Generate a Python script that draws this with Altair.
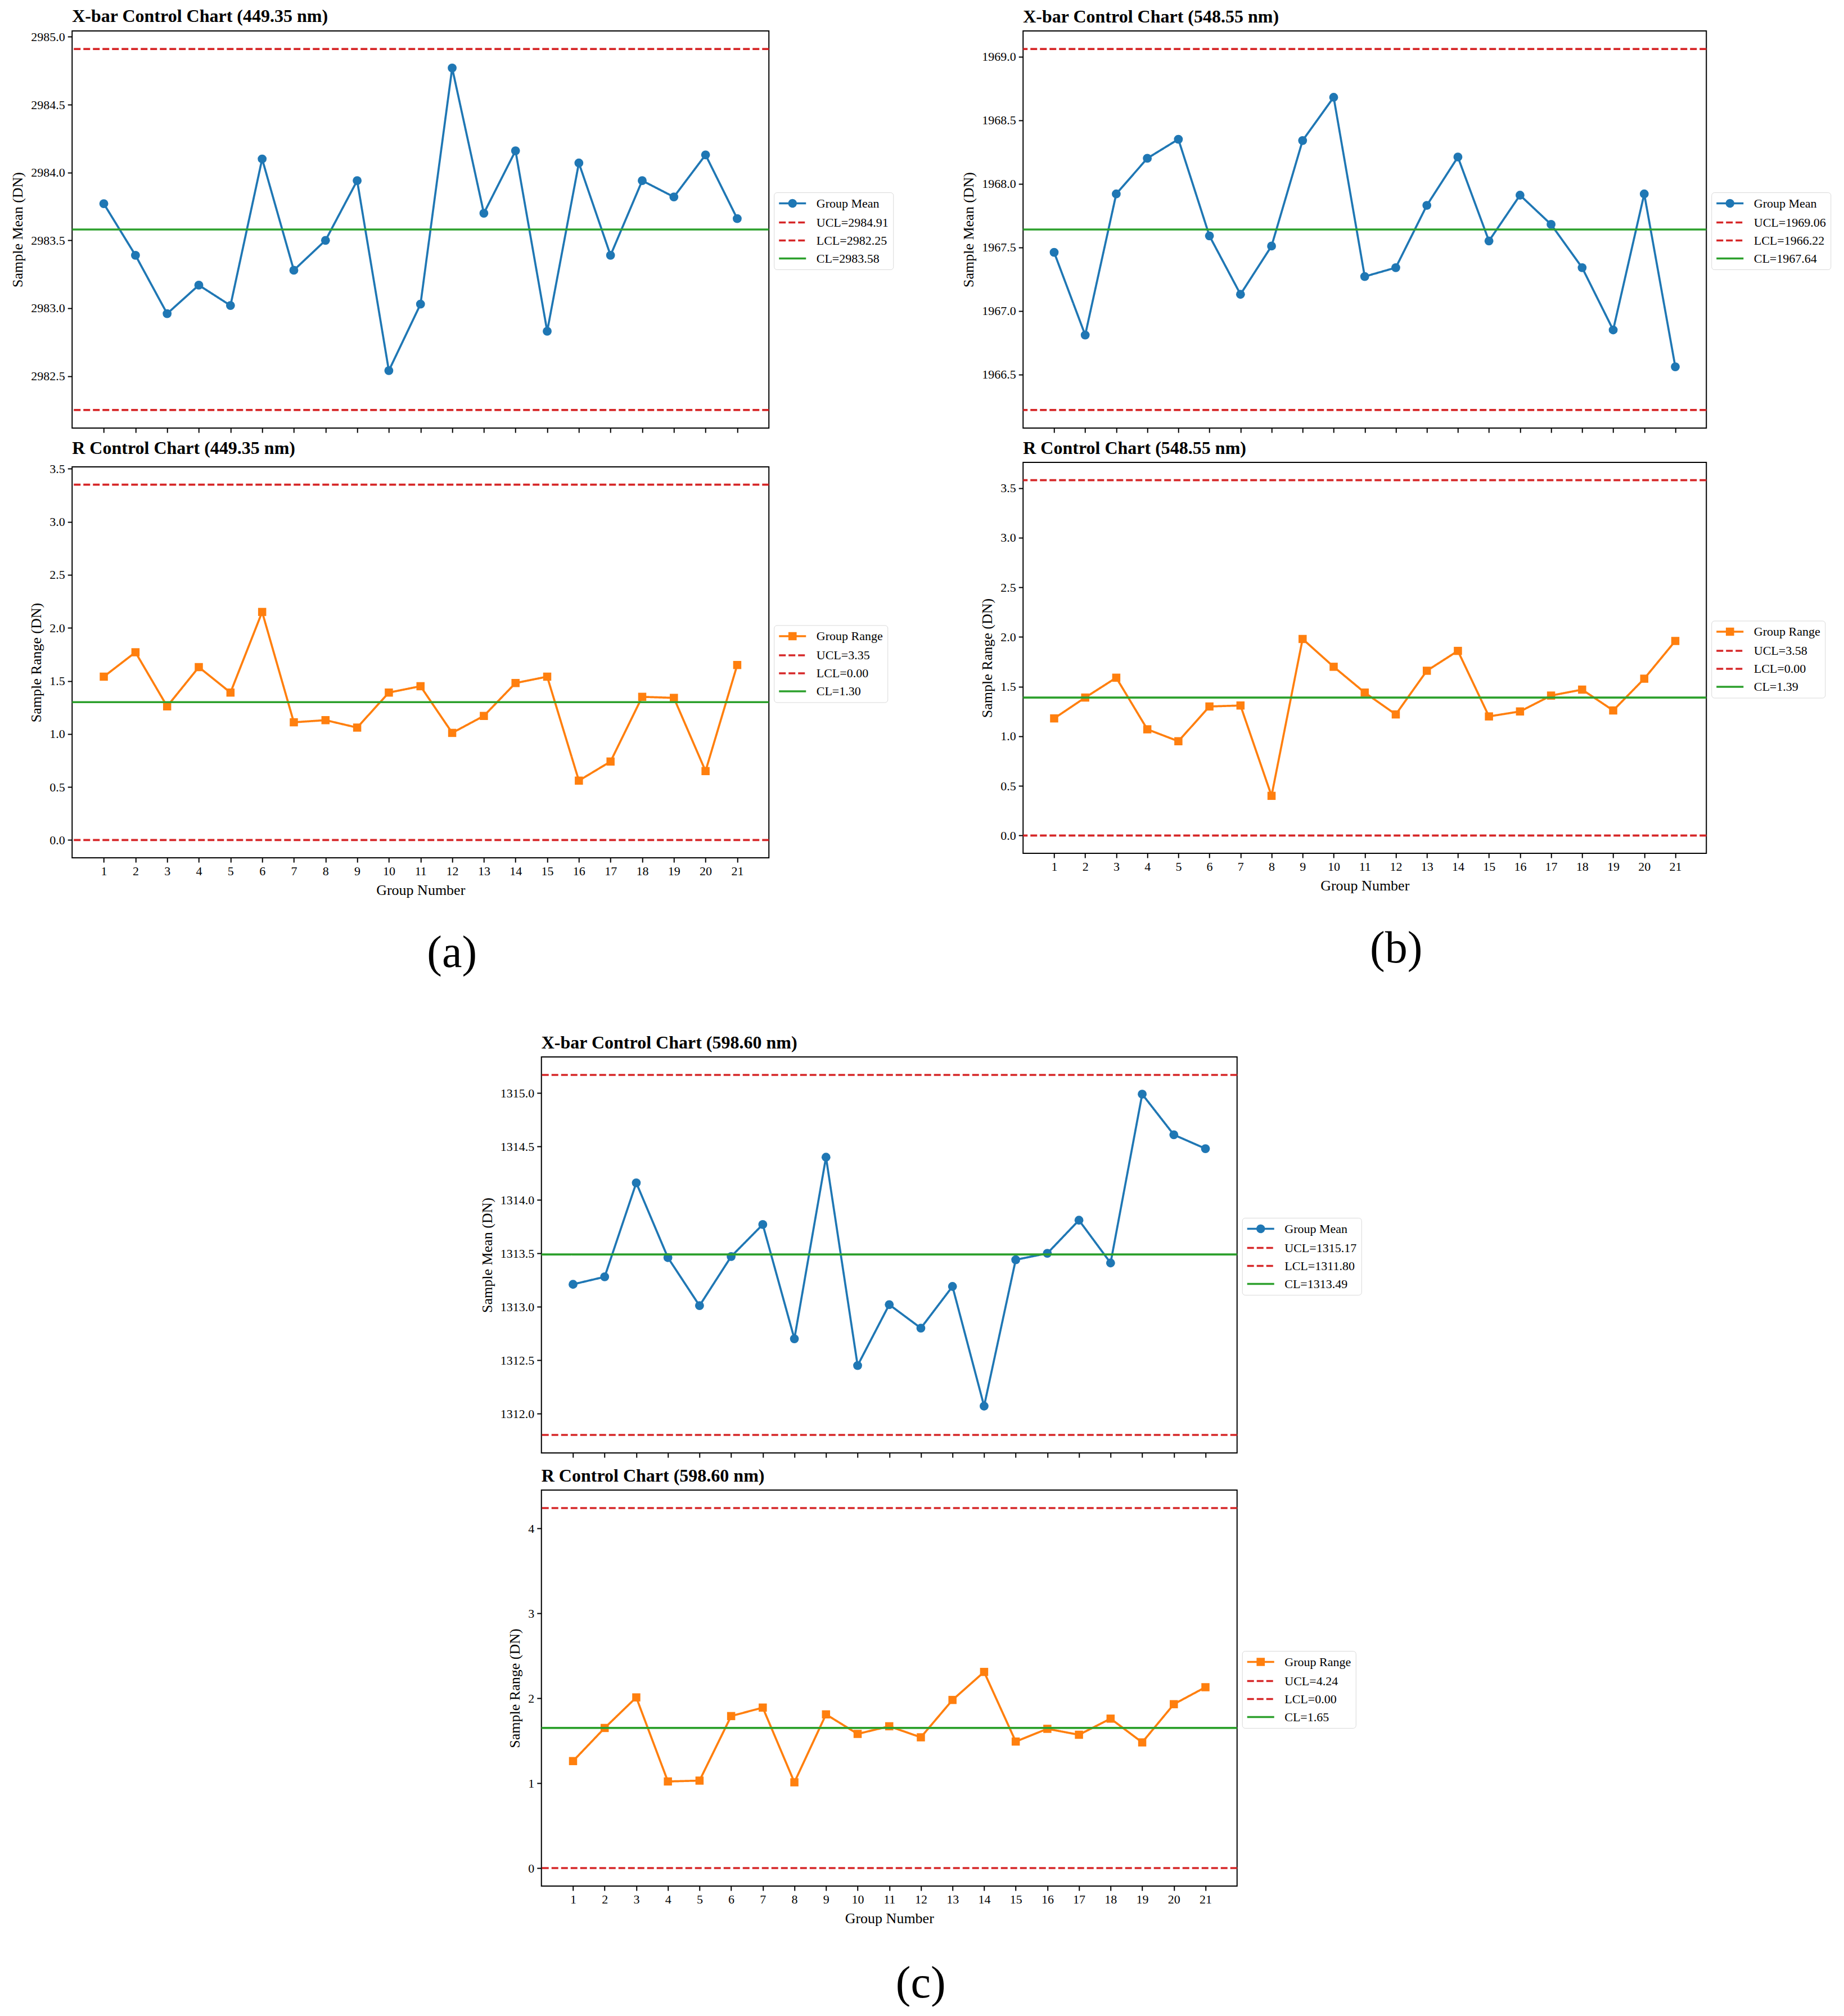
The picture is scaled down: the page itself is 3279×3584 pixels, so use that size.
import altair as alt
import pandas as pd

groups = list(range(1, 22))

a_mean = [2983.77, 2983.39, 2982.96, 2983.17, 2983.02, 2984.10, 2983.28, 2983.50, 2983.94, 2982.54, 2983.03,
          2984.77, 2983.70, 2984.16, 2982.83, 2984.07, 2983.39, 2983.94, 2983.82, 2984.13, 2983.66]
a_range = [1.54, 1.77, 1.26, 1.63, 1.39, 2.15, 1.11, 1.13, 1.06, 1.39, 1.45, 1.01, 1.17, 1.48, 1.54, 0.56,
           0.74, 1.35, 1.34, 0.65, 1.65]
b_mean = [1967.46, 1966.81, 1967.92, 1968.20, 1968.35, 1967.59, 1967.13, 1967.51, 1968.34, 1968.68, 1967.27,
          1967.34, 1967.83, 1968.21, 1967.55, 1967.91, 1967.68, 1967.34, 1966.85, 1967.92, 1966.56]
b_range = [1.18, 1.39, 1.59, 1.07, 0.95, 1.30, 1.31, 0.40, 1.98, 1.70, 1.44, 1.22, 1.66, 1.86, 1.20, 1.25,
           1.41, 1.47, 1.26, 1.58, 1.96]
c_mean = [1313.21, 1313.28, 1314.16, 1313.46, 1313.01, 1313.47, 1313.77, 1312.70, 1314.40, 1312.45, 1313.02,
          1312.80, 1313.19, 1312.07, 1313.44, 1313.50, 1313.81, 1313.41, 1314.99, 1314.61, 1314.48]
c_range = [1.26, 1.65, 2.01, 1.02, 1.03, 1.79, 1.89, 1.01, 1.81, 1.58, 1.67, 1.54, 1.98, 2.31, 1.49, 1.64,
           1.57, 1.76, 1.48, 1.93, 2.13]

# UCL, LCL, CL
a_mean_lim = [2984.91, 2982.25, 2983.58]
a_range_lim = [3.35, 0.00, 1.30]
b_mean_lim = [1969.06, 1966.22, 1967.64]
b_range_lim = [3.58, 0.00, 1.39]
c_mean_lim = [1315.17, 1311.80, 1313.49]
c_range_lim = [4.24, 0.00, 1.65]

wavelengths = ["449.35", "548.55", "598.60"]
panel_labels = ["(a)", "(b)", "(c)"]

a_mean_ticks = [2982.5, 2983.0, 2983.5, 2984.0, 2984.5, 2985.0]
b_mean_ticks = [1966.5, 1967.0, 1967.5, 1968.0, 1968.5, 1969.0]
c_mean_ticks = [1312.0, 1312.5, 1313.0, 1313.5, 1314.0, 1314.5, 1315.0]
ab_range_ticks = [0.0, 0.5, 1.0, 1.5, 2.0, 2.5, 3.0, 3.5]
c_range_ticks = [0, 1, 2, 3, 4]

BLUE = "#1f77b4"
ORANGE = "#ff7f0e"
RED = "#d62728"
GREEN = "#2ca02c"
FONT = "Liberation Serif"

LINE_PATH = "M-2.5,0L2.5,0"
CIRCLE_PATH = "M-2.5,0L2.5,0M-0.62,0A0.62,0.62,0,1,0,0.62,0A0.62,0.62,0,1,0,-0.62,0Z"
SQUARE_PATH = "M-2.5,0L2.5,0M-0.58,-0.58L0.58,-0.58L0.58,0.58L-0.58,0.58Z"


def control(title, values, limits, kind, width, height, yticks, yfmt, bottom):
    ucl, lcl, cl = limits
    if kind == "mean":
        series, color, marker, mpath, msize = "Group Mean", BLUE, "circle", CIRCLE_PATH, 250
        ytitle = "Sample Mean (DN)"
    else:
        series, color, marker, mpath, msize = "Group Range", ORANGE, "square", SQUARE_PATH, 210
        ytitle = "Sample Range (DN)"
    sdf = pd.DataFrame({"group": groups, "value": values, "label": series})
    ldf = pd.DataFrame({"label": [f"UCL={ucl:.2f}", f"LCL={lcl:.2f}", f"CL={cl:.2f}"],
                        "value": [ucl, lcl, cl]})
    domain = [series] + ldf["label"].tolist()
    lo = min(lcl, min(values))
    hi = max(ucl, max(values))
    pad = (hi - lo) * 0.05
    yscale = alt.Scale(domain=[lo - pad, hi + pad], nice=False, zero=False)
    xscale = alt.Scale(domain=[0, 22], nice=False)

    legend = alt.Legend(title=None, orient="none", legendX=width + 9, legendY=height / 2 - 66)
    stroke = alt.Stroke("label:N", scale=alt.Scale(domain=domain, range=[color, RED, RED, GREEN]), legend=legend)
    dash = alt.StrokeDash("label:N", scale=alt.Scale(domain=domain, range=[[1, 0], [12, 5], [12, 5], [1, 0]]),
                          legend=legend)
    fill = alt.Fill("label:N", scale=alt.Scale(domain=domain, range=[color, RED, RED, GREEN]), legend=legend)
    shape = alt.Shape("label:N", scale=alt.Scale(domain=domain, range=[mpath, LINE_PATH, LINE_PATH, LINE_PATH]),
                      legend=legend)

    if bottom:
        xaxis = alt.Axis(values=groups, format="d", title="Group Number")
    else:
        xaxis = alt.Axis(values=groups, labels=False, title=None)
    yaxis = alt.Axis(values=yticks, format=yfmt, title=ytitle)

    x = alt.X("group:Q", scale=xscale, axis=xaxis)
    y = alt.Y("value:Q", scale=yscale, axis=yaxis)

    line = alt.Chart(sdf).mark_line(strokeWidth=3.7).encode(x=x, y=y, stroke=stroke, strokeDash=dash)
    pts = alt.Chart(sdf).mark_point(filled=True, shape=marker, size=msize, color=color, opacity=1).encode(x=x, y=y)
    rules = alt.Chart(ldf).mark_rule(strokeWidth=3.7).encode(y=y, stroke=stroke, strokeDash=dash)
    dummy = alt.Chart(sdf).mark_point(filled=True, size=0).encode(
        x=x, y=y, stroke=stroke, fill=fill, shape=shape, strokeDash=dash)

    return alt.layer(line, pts, rules, dummy).properties(
        width=width, height=height,
        title=alt.TitleParams(title, anchor="start", frame="group", fontSize=32, fontWeight="bold",
                              font=FONT, offset=8),
    )


def panel(idx, means, ranges, mlim, rlim, width, hm, hr, mticks, rticks, rfmt, inner, loff):
    wl = wavelengths[idx]
    top = control(f"X-bar Control Chart ({wl} nm)", means, mlim, "mean", width, hm, mticks, ".1f", False)
    bot = control(f"R Control Chart ({wl} nm)", ranges, rlim, "range", width, hr, rticks, rfmt, True)
    return alt.vconcat(
        top, bot, spacing=inner,
        title=alt.TitleParams(panel_labels[idx], orient="bottom", anchor="middle", fontSize=80,
                              font=FONT, fontWeight="normal", offset=loff),
    ).resolve_scale(stroke="independent", strokeDash="independent", fill="independent",
                    shape="independent").resolve_legend(stroke="independent", strokeDash="independent",
                                                       fill="independent", shape="independent")


pa = panel(0, a_mean, a_range, a_mean_lim, a_range_lim, 1239, 706, 695, a_mean_ticks, ab_range_ticks, ".1f", 9, 60)
pb = panel(1, b_mean, b_range, b_mean_lim, b_range_lim, 1215, 706, 695, b_mean_ticks, ab_range_ticks, ".1f", 9, 60)
pc = panel(2, c_mean, c_range, c_mean_lim, c_range_lim, 1237, 704, 704, c_mean_ticks, c_range_ticks, "d", 14, 64)

res_kw = dict(stroke="independent", strokeDash="independent", fill="independent", shape="independent")

toprow = alt.hconcat(pa, pb, spacing=118).resolve_scale(**res_kw).resolve_legend(**res_kw)

chart = alt.vconcat(toprow, pc, spacing=102, center=True).resolve_scale(**res_kw).resolve_legend(
    **res_kw
).properties(
    background="white", padding={"left": 9, "top": 4, "right": 0, "bottom": 0}
).configure_view(
    stroke="black", strokeWidth=2
).configure_axis(
    labelFont=FONT, labelFontSize=22, labelColor="black",
    titleFont=FONT, titleFontSize=26, titleFontWeight="normal", titleColor="black",
    tickColor="black", tickWidth=2, tickSize=8, domain=False, grid=False,
    labelPadding=5, titlePadding=10,
).configure_legend(
    labelFont=FONT, labelFontSize=22, labelColor="black", labelLimit=300,
    symbolSize=369, symbolStrokeWidth=3.5, symbolOffset=13.5, labelOffset=31,
    rowPadding=9, padding=8, strokeColor="#d9d9d9", fillColor="white", cornerRadius=5,
    symbolFillColor="white", symbolStrokeColor="black", symbolOpacity=1,
).configure_title(color="black")

chart.save("out.html", embed_options={"renderer": "svg", "actions": False})
